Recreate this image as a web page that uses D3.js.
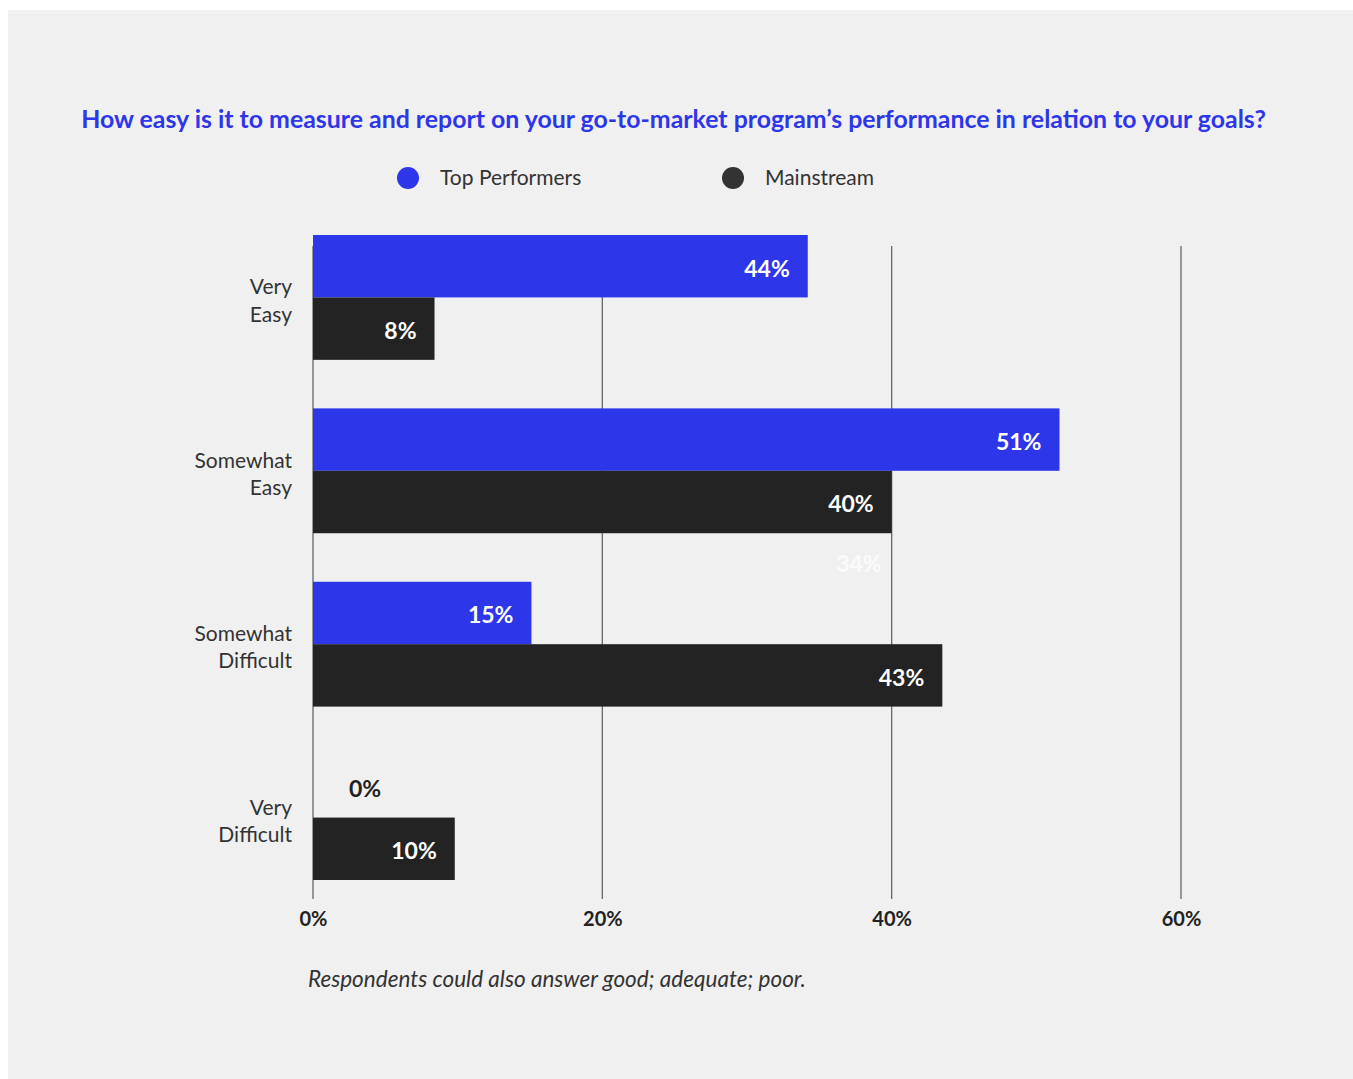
<!DOCTYPE html>
<html>
<head>
<meta charset="utf-8">
<script src="https://cdn.jsdelivr.net/npm/d3@7"></script>
<style>
  html, body { margin: 0; padding: 0; background: #ffffff; }
  svg { display: block; }
</style>
</head>
<body>
<svg id="chart" width="1353" height="1079"></svg>
<script>
// ---------- DATA ----------
const titleText = "How easy is it to measure and report on your go-to-market program\u2019s performance in relation to your goals?";
const categories = ["Very Easy", "Somewhat Easy", "Somewhat Difficult", "Very Difficult"];
const categoryLines = [["Very", "Easy"], ["Somewhat", "Easy"], ["Somewhat", "Difficult"], ["Very", "Difficult"]];
const seriesNames = ["Top Performers", "Mainstream"];
const topValues = [34.2, 51.6, 15.1, 0];
const mainValues = [8.4, 40.0, 43.5, 9.8];
const topLabels = ["44%", "51%", "15%", "0%"];
const mainLabels = ["8%", "40%", "43%", "10%"];
const strayLabels = [{ category: "Somewhat Easy", text: "34%" }];
const xTicks = [0, 20, 40, 60];
const xTickLabels = ["0%", "20%", "40%", "60%"];
const footnote = "Respondents could also answer good; adequate; poor.";

// ---------- STYLE ----------
const BLUE = "#2e36ea";
const DARK = "#232323";
const FONT = "'Source Sans Pro', Lato, 'Noto Sans', sans-serif";

const svg = d3.select("#chart");
svg.append("rect").attr("x", 8).attr("y", 10).attr("width", 1345).attr("height", 1069).attr("fill", "#f0f0f0");

function fitWidth(sel, target) {
  const w = sel.node().getComputedTextLength();
  const fs = parseFloat(sel.attr("font-size"));
  sel.attr("font-size", (fs * target / w).toFixed(2));
}

// title
const title = svg.append("text")
  .attr("x", 673.5).attr("y", 128)
  .attr("text-anchor", "middle")
  .attr("font-family", FONT).attr("font-weight", 700)
  .attr("font-size", 24).attr("fill", BLUE)
  .text(titleText);
fitWidth(title, 1185);

// legend
const legendX = [408, 733];
const legendColors = [BLUE, "#333333"];
const lg = svg.append("g");
seriesNames.forEach((s, i) => {
  lg.append("circle").attr("cx", legendX[i]).attr("cy", 178).attr("r", 11).attr("fill", legendColors[i]);
  lg.append("text").attr("x", legendX[i] + 32).attr("y", 185)
    .attr("font-family", FONT).attr("font-size", 21).attr("fill", "#333")
    .text(s);
});

// scales
const x = d3.scaleLinear().domain([0, 60]).range([313, 1181]);
const y = d3.scaleBand().domain(categories).range([235, 880]).paddingInner(0.28).paddingOuter(0);
const ySub = d3.scaleBand().domain(seriesNames).range([0, y.bandwidth()]).padding(0);

// gridlines
svg.append("g").selectAll("line").data(xTicks).join("line")
  .attr("x1", d => x(d)).attr("x2", d => x(d))
  .attr("y1", 246).attr("y2", 899)
  .attr("stroke", "#666").attr("stroke-width", 1.3);

// x axis labels
const xAxis = d3.axisBottom(x).tickValues(xTicks).tickFormat((d, i) => xTickLabels[i]).tickSize(0).tickPadding(0);
const gx = svg.append("g").attr("transform", "translate(0,912)").call(xAxis);
gx.select(".domain").remove();
gx.selectAll("text").attr("font-family", FONT).attr("font-weight", 700).attr("font-size", 20).attr("fill", "#222").attr("dy", "0.71em");

// bars
const rows = categories.map((c, i) => ({
  cat: c,
  vals: [
    { s: seriesNames[0], v: topValues[i], label: topLabels[i], color: BLUE },
    { s: seriesNames[1], v: mainValues[i], label: mainLabels[i], color: DARK }
  ]
}));

const groups = svg.append("g").selectAll("g").data(rows).join("g")
  .attr("transform", d => `translate(0,${y(d.cat)})`);

groups.selectAll("rect").data(d => d.vals).join("rect")
  .attr("x", x(0))
  .attr("y", d => ySub(d.s))
  .attr("width", d => x(d.v) - x(0))
  .attr("height", ySub.bandwidth())
  .attr("fill", d => d.color);

groups.selectAll("text.val").data(d => d.vals).join("text")
  .attr("class", "val")
  .attr("x", d => d.v > 0 ? x(d.v) - 18 : x(d.v) + 36)
  .attr("y", d => ySub(d.s) + ySub.bandwidth() / 2)
  .attr("dy", "0.45em")
  .attr("text-anchor", d => d.v > 0 ? "end" : "start")
  .attr("font-family", FONT).attr("font-weight", 700).attr("font-size", 23)
  .attr("fill", d => d.v > 0 ? "#ffffff" : "#222")
  .text(d => d.label);

// stray label
strayLabels.forEach(s => {
  const i = categories.indexOf(s.category);
  svg.append("text")
    .attr("x", x(mainValues[i]) - 10)
    .attr("y", y(s.category) + y.bandwidth() + 28)
    .attr("dy", "0.45em")
    .attr("text-anchor", "end")
    .attr("font-family", FONT).attr("font-weight", 700).attr("font-size", 23)
    .attr("fill", "#fbfbfb")
    .text(s.text);
});

// category labels
const cl = svg.append("g").selectAll("text").data(categories).join("text")
  .attr("x", 292)
  .attr("y", (d, i) => y(d) + y.bandwidth() / 2 - 3)
  .attr("text-anchor", "end")
  .attr("font-family", FONT).attr("font-size", 21).attr("fill", "#333");
cl.selectAll("tspan").data((d, i) => categoryLines[i]).join("tspan")
  .attr("x", 292)
  .attr("dy", (d, j) => j === 0 ? "0em" : "1.3em")
  .text(d => d);

// footnote
const fn = svg.append("text")
  .attr("x", 308).attr("y", 987)
  .attr("font-family", FONT).attr("font-style", "italic")
  .attr("font-size", 20).attr("fill", "#333")
  .text(footnote);
fitWidth(fn, 498);
</script>
</body>
</html>
